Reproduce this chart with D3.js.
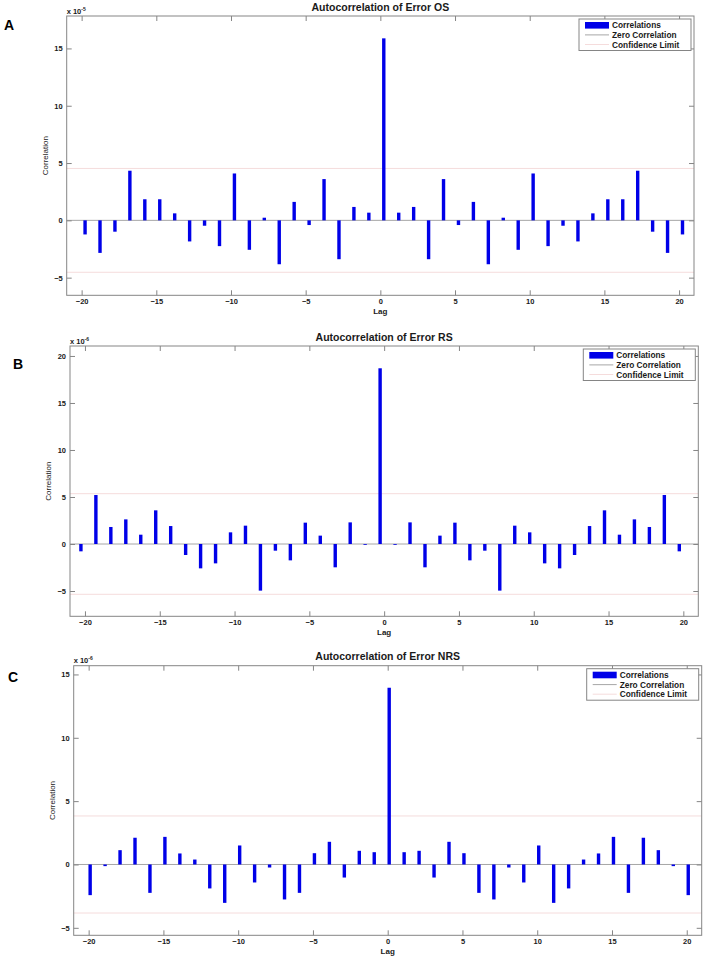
<!DOCTYPE html>
<html>
<head>
<meta charset="utf-8">
<script src="https://cdn.jsdelivr.net/npm/d3@7"></script>
<style>
  html, body { margin: 0; padding: 0; background: #fff; }
  svg { display: block; font-family: "Liberation Sans", Arial, Helvetica, sans-serif; }
</style>
</head>
<body>
<svg id="chart" width="706" height="959"></svg>
<script>
// ---------------- DATA ----------------
const lags = [-20,-19,-18,-17,-16,-15,-14,-13,-12,-11,-10,-9,-8,-7,-6,-5,-4,-3,-2,-1,0,
              1,2,3,4,5,6,7,8,9,10,11,12,13,14,15,16,17,18,19,20];

const corrOS = [-1.23,-2.84,-0.99,4.33,1.84,1.84,0.61,-1.84,-0.47,-2.25,4.09,-2.57,0.23,-3.83,1.61,-0.41,3.60,-3.39,1.17,0.67,
                15.88,
                0.67,1.17,-3.39,3.60,-0.41,1.61,-3.83,0.23,-2.57,4.09,-2.25,-0.47,-1.84,0.61,1.84,1.84,4.33,-0.99,-2.84,-1.23];

const corrRS = [-0.78,5.21,1.81,2.62,0.99,3.58,1.91,-1.17,-2.59,-2.06,1.24,1.95,-4.96,-0.71,-1.74,2.27,0.89,-2.48,2.30,-0.05,
                18.69,
                -0.05,2.30,-2.48,0.89,2.27,-1.74,-0.71,-4.96,1.95,1.24,-2.06,-2.59,-1.17,1.91,3.58,0.99,2.62,1.81,5.21,-0.78];

const corrNRS = [-2.42,-0.13,1.13,2.11,-2.24,2.18,0.87,0.39,-1.89,-3.03,1.50,-1.42,-0.24,-2.76,-2.24,0.89,1.79,-1.03,1.08,0.97,
                 13.95,
                 0.97,1.08,-1.03,1.79,0.89,-2.24,-2.76,-0.24,-1.42,1.50,-3.03,-1.89,0.39,0.87,2.18,-2.24,2.11,1.13,-0.13,-2.42];

const confLimits = [4.53, 5.35, 3.83];
const titles = ["Autocorrelation of Error OS", "Autocorrelation of Error RS", "Autocorrelation of Error NRS"];
const panelLetters = ["A", "B", "C"];
const exponents = ["-5", "-6", "-6"];
const xTicks = [-20,-15,-10,-5,0,5,10,15,20];
const yTicksA = [-5,0,5,10,15];
const yTicksB = [-5,0,5,10,15,20];
const yTicksC = [-5,0,5,10,15];
const yDomains = [[-6.54, 17.83], [-7.69, 21.06], [-5.59, 15.69]];
const xDomain = [-21, 21];
const legendLabels = ["Correlations", "Zero Correlation", "Confidence Limit"];

// ---------------- LAYOUT ----------------
const panels = [
  { series: corrOS,  yTicks: yTicksA, left: 66.7, top: 16,    right: 694,   bottom: 295.3, shift: 0.23, letter: [4, 29.5] },
  { series: corrRS,  yTicks: yTicksB, left: 70,   top: 346,   right: 698.3, bottom: 616.3, shift: -0.27, letter: [13, 369] },
  { series: corrNRS, yTicks: yTicksC, left: 73.7, top: 665.7, right: 701.7, bottom: 935.3, shift: 0.1, letter: [8, 681.5] }
];

const AXIS_COLOR = "#858585";
const TEXT_COLOR = "#1a1a1a";
const BAR_COLOR = "#0000e8";
const ZERO_COLOR = "#a6a6a6";
const CONF_COLOR = "#f5dcdc";
const BAR_W = 3.4;

const svg = d3.select("#chart");

panels.forEach((p, i) => {
  const g = svg.append("g");
  const x = d3.scaleLinear().domain(xDomain).range([p.left, p.right]);
  const y = d3.scaleLinear().domain(yDomains[i]).range([p.bottom, p.top]);
  const data = lags.map((l, k) => ({ lag: l, v: p.series[k] }));

  // confidence limits
  [confLimits[i], -confLimits[i]].forEach(c => {
    g.append("line")
      .attr("x1", p.left).attr("x2", p.right)
      .attr("y1", y(c)).attr("y2", y(c))
      .attr("stroke", CONF_COLOR).attr("stroke-width", 1);
  });

  // zero line
  g.append("line")
    .attr("x1", p.left).attr("x2", p.right)
    .attr("y1", y(0)).attr("y2", y(0))
    .attr("stroke", ZERO_COLOR).attr("stroke-width", 1);

  // bars
  g.selectAll("rect.bar").data(data).enter().append("rect")
    .attr("class", "bar")
    .attr("x", d => x(d.lag + p.shift) - BAR_W / 2)
    .attr("width", BAR_W)
    .attr("y", d => y(Math.max(0, d.v)))
    .attr("height", d => Math.max(0.8, Math.abs(y(d.v) - y(0))))
    .attr("fill", BAR_COLOR);

  // axes
  const styleAxis = sel => {
    sel.select(".domain").remove();
    sel.selectAll(".tick line").attr("stroke", AXIS_COLOR);
    sel.selectAll(".tick text").attr("fill", TEXT_COLOR)
      .style("font-size", "7.5px").style("font-weight", "bold");
  };
  g.append("g").attr("transform", `translate(0,${p.bottom})`)
    .call(d3.axisBottom(x).tickValues(xTicks).tickSizeInner(-5).tickSizeOuter(0).tickPadding(3).tickFormat(d3.format("d")))
    .call(styleAxis);
  g.append("g").attr("transform", `translate(0,${p.top})`)
    .call(d3.axisTop(x).tickValues(xTicks).tickSizeInner(-5).tickSizeOuter(0).tickFormat(""))
    .call(styleAxis);
  g.append("g").attr("transform", `translate(${p.left},0)`)
    .call(d3.axisLeft(y).tickValues(p.yTicks).tickSizeInner(-5).tickSizeOuter(0).tickPadding(4).tickFormat(d3.format("d")))
    .call(styleAxis);
  g.append("g").attr("transform", `translate(${p.right},0)`)
    .call(d3.axisRight(y).tickValues(p.yTicks).tickSizeInner(-5).tickSizeOuter(0).tickFormat(""))
    .call(styleAxis);

  // box
  g.append("rect")
    .attr("x", p.left).attr("y", p.top)
    .attr("width", p.right - p.left).attr("height", p.bottom - p.top)
    .attr("fill", "none").attr("stroke", AXIS_COLOR).attr("stroke-width", 1);

  // title
  g.append("text")
    .attr("x", (p.left + p.right) / 2).attr("y", p.top - 5.5)
    .attr("text-anchor", "middle")
    .style("font-size", "10.5px").style("font-weight", "bold").attr("fill", TEXT_COLOR)
    .text(titles[i]);

  // exponent
  const ex = g.append("text")
    .attr("x", p.left).attr("y", p.top - 2.5)
    .style("font-size", "7.5px").style("font-weight", "bold").attr("fill", TEXT_COLOR);
  ex.append("tspan").text("x 10");
  ex.append("tspan").attr("dy", -3).style("font-size", "5px").text(exponents[i]);

  // axis labels
  g.append("text")
    .attr("transform", `translate(${p.left - 19},${(p.top + p.bottom) / 2}) rotate(-90)`)
    .attr("text-anchor", "middle")
    .style("font-size", "8px").attr("fill", TEXT_COLOR)
    .text("Correlation");
  g.append("text")
    .attr("x", x(0)).attr("y", p.bottom + 19)
    .attr("text-anchor", "middle")
    .style("font-size", "8px").style("font-weight", "bold").attr("fill", TEXT_COLOR)
    .text("Lag");

  // panel letter
  g.append("text")
    .attr("x", p.letter[0]).attr("y", p.letter[1])
    .style("font-size", "14px").style("font-weight", "bold").attr("fill", "#000")
    .text(panelLetters[i]);

  // legend
  const lw = 112, lh = 31.5;
  const lx = p.right - lw - 3, ly = p.top + 3;
  const lg = g.append("g").attr("transform", `translate(${lx},${ly})`);
  lg.append("rect").attr("width", lw).attr("height", lh)
    .attr("fill", "#fff").attr("stroke", AXIS_COLOR).attr("stroke-width", 1);
  legendLabels.forEach((lab, k) => {
    const cy = 6.3 + k * 9.6;
    if (k === 0) {
      lg.append("rect").attr("x", 6).attr("y", cy - 3.3).attr("width", 24).attr("height", 6.6).attr("fill", BAR_COLOR);
    } else {
      lg.append("line").attr("x1", 6).attr("x2", 30).attr("y1", cy).attr("y2", cy)
        .attr("stroke", k === 1 ? ZERO_COLOR : CONF_COLOR).attr("stroke-width", 1);
    }
    lg.append("text").attr("x", 33).attr("y", cy + 3)
      .style("font-size", "8.3px").style("font-weight", "bold").attr("fill", TEXT_COLOR)
      .text(lab);
  });
});
</script>
</body>
</html>
